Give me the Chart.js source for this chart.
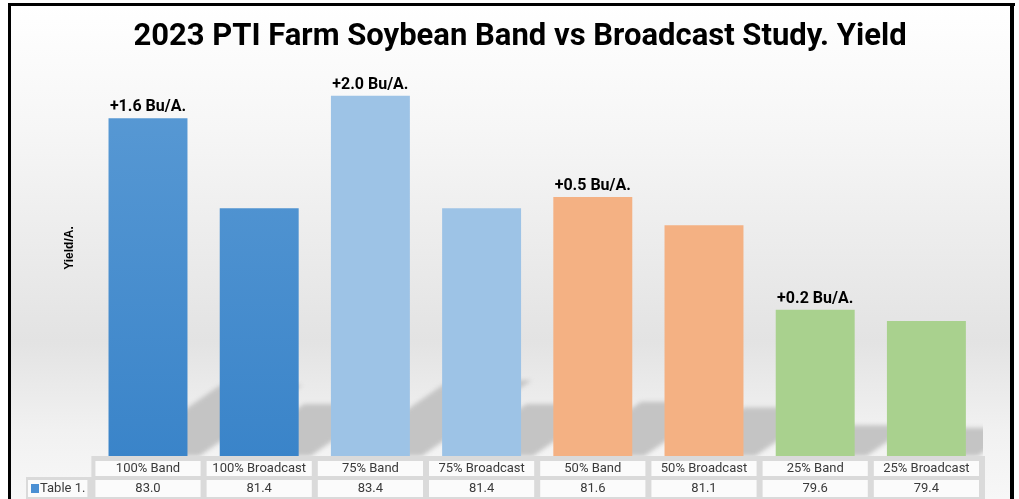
<!DOCTYPE html>
<html>
<head>
<meta charset="utf-8">
<script src="https://cdn.jsdelivr.net/npm/chart.js@4/dist/chart.umd.min.js"></script>
<style>
  html, body { margin: 0; padding: 0; background: #fff; }
  #wrap { width: 1019px; height: 499px; }
</style>
</head>
<body>
<div id="wrap"><canvas id="yield-chart" width="1019" height="499"></canvas></div>
<script>
// data
var categories = ['100% Band', '100% Broadcast', '75% Band', '75% Broadcast', '50% Band', '50% Broadcast', '25% Band', '25% Broadcast'];
var yields = [83.0, 81.4, 83.4, 81.4, 81.6, 81.1, 79.6, 79.4];
var diffLabels = ['+1.6 Bu/A.', '', '+2.0 Bu/A.', '', '+0.5 Bu/A.', '', '+0.2 Bu/A.', ''];
var seriesName = 'Table 1.';
var titleText = '2023 PTI Farm Soybean Band vs Broadcast Study. Yield';
var yTitle = 'Yield/A.';

// top / bottom colour of each bar
var barTop = ['#5b9bd5', '#5b9bd5', '#9dc3e6', '#9dc3e6', '#f4b183', '#f4b183', '#a9d18e', '#a9d18e'];
var barBottom = ['#3a84c9', '#3a84c9', '#9dc3e6', '#9dc3e6', '#f4b183', '#f4b183', '#a9d18e', '#a9d18e'];

function barFill(context){
	var chart = context.chart;
	var area = chart.chartArea;
	var i = context.dataIndex;
	if(!area) return barTop[i];
	var g = chart.ctx.createLinearGradient(0, area.top, 0, area.bottom);
	g.addColorStop(0, barTop[i]);
	g.addColorStop(1, barBottom[i]);
	return g;
}

var backdrop = {
	id: 'backdrop',
	beforeDraw: function(chart){
		var ctx = chart.ctx;
		ctx.save();
		ctx.fillStyle = '#ffffff';
		ctx.fillRect(0, 0, chart.width, chart.height);
		var g = ctx.createLinearGradient(0, 6, 0, 499);
		g.addColorStop(0, '#ffffff');
		g.addColorStop(0.25, '#f6f6f6');
		g.addColorStop(0.68, '#e3e3e3');
		g.addColorStop(0.86, '#f1f1f1');
		g.addColorStop(1, '#f7f7f7');
		ctx.fillStyle = g;
		ctx.fillRect(11, 6, 999, 493);
		ctx.fillStyle = '#000';
		ctx.fillRect(8, 3, 1007, 3);
		ctx.fillRect(8, 3, 3, 496);
		ctx.fillRect(1010, 3, 4, 496);

		ctx.fillStyle = '#000';
		ctx.font = 'bold 31px Roboto';
		ctx.textAlign = 'center';
		ctx.textBaseline = 'middle';
		ctx.fillText(titleText, 520, 37);

		ctx.save();
		ctx.translate(70, 248);
		ctx.rotate(-Math.PI / 2);
		ctx.font = 'bold 12px "Liberation Sans"';
		ctx.fillText(yTitle, 0, 0);
		ctx.restore();
		ctx.restore();
	},
	beforeDatasetsDraw: function(chart){
		// blurred floor shadows cast back and to the right of each bar
		var ctx = chart.ctx;
		var area = chart.chartArea;
		var base = chart.scales.y.getPixelForValue(77);
		ctx.save();
		ctx.beginPath();
		ctx.rect(area.left, area.top, area.right - area.left + 1, area.bottom - area.top);
		ctx.clip();
		ctx.filter = 'blur(2px)';
		ctx.fillStyle = '#c4c4c4';
		chart.getDatasetMeta(0).data.forEach(function(bar){
			var b = (base - bar.y) * 0.21;
			var a = b * 1.45;
			var l = bar.x - bar.width / 2 + 9, r = bar.x + bar.width / 2 + 12;
			ctx.beginPath();
			ctx.moveTo(l, base);
			ctx.lineTo(r, base);
			ctx.lineTo(r + a, base - b);
			ctx.lineTo(l + a, base - b);
			ctx.closePath();
			ctx.fill();
		});
		ctx.restore();
	},
	afterDatasetsDraw: function(chart){
		var ctx = chart.ctx;
		ctx.save();
		ctx.fillStyle = '#000';
		ctx.font = 'bold 16px Roboto';
		ctx.textAlign = 'center';
		ctx.textBaseline = 'middle';
		chart.getDatasetMeta(0).data.forEach(function(bar, i){
			if(diffLabels[i]) ctx.fillText(diffLabels[i], bar.x, bar.y - 11);
		});
		ctx.restore();
	},
	afterDraw: function(chart){
		// data table under the plot
		var ctx = chart.ctx;
		var xs = chart.scales.x;
		var area = chart.chartArea;
		var step = (area.right - area.left) / categories.length;
		ctx.save();
		ctx.fillStyle = '#dadada';
		ctx.fillRect(area.left - 1, area.bottom, area.right - area.left + 4, 499 - area.bottom);
		ctx.fillRect(26, 477, area.left, 22);
		ctx.font = '13px Roboto';
		ctx.textAlign = 'center';
		ctx.textBaseline = 'middle';
		categories.forEach(function(c, i){
			var cx = xs.getPixelForValue(i);
			var l = cx - step / 2 + 3, w = step - 6;
			ctx.fillStyle = '#fbfbfb';
			ctx.fillRect(l, 461, w, 15);
			ctx.fillRect(l, 480, w, 17);
			ctx.fillStyle = '#3a3a3a';
			ctx.fillText(c, cx, 468.5);
			ctx.fillText(yields[i].toFixed(1), cx, 489);
		});
		ctx.fillStyle = '#fbfbfb';
		ctx.fillRect(28, 480, area.left - 33, 17);
		ctx.fillStyle = '#4a8fd3';
		ctx.fillRect(31, 484, 8, 9);
		ctx.fillStyle = '#3a3a3a';
		ctx.textAlign = 'left';
		ctx.fillText(seriesName, 40, 489);
		ctx.restore();
	}
};

var ctx = document.getElementById('yield-chart').getContext('2d');
var yieldChart = new Chart(ctx, {
	type: 'bar',
	data: {
		labels: categories,
		datasets: [{
			label: seriesName,
			data: yields,
			backgroundColor: barFill,
			borderWidth: 0,
			categoryPercentage: 1,
			barPercentage: 0.71
		}]
	},
	options: {
		responsive: false,
		animation: false,
		devicePixelRatio: 1,
		layout: { padding: { left: 92.4, right: 37, top: 62, bottom: 43 } },
		plugins: {
			legend: { display: false },
			tooltip: { enabled: false },
			title: { display: false }
		},
		scales: {
			x: { display: false },
			y: { display: false, min: 77, max: 84 }
		}
	},
	plugins: [backdrop]
});
</script>
</body>
</html>
